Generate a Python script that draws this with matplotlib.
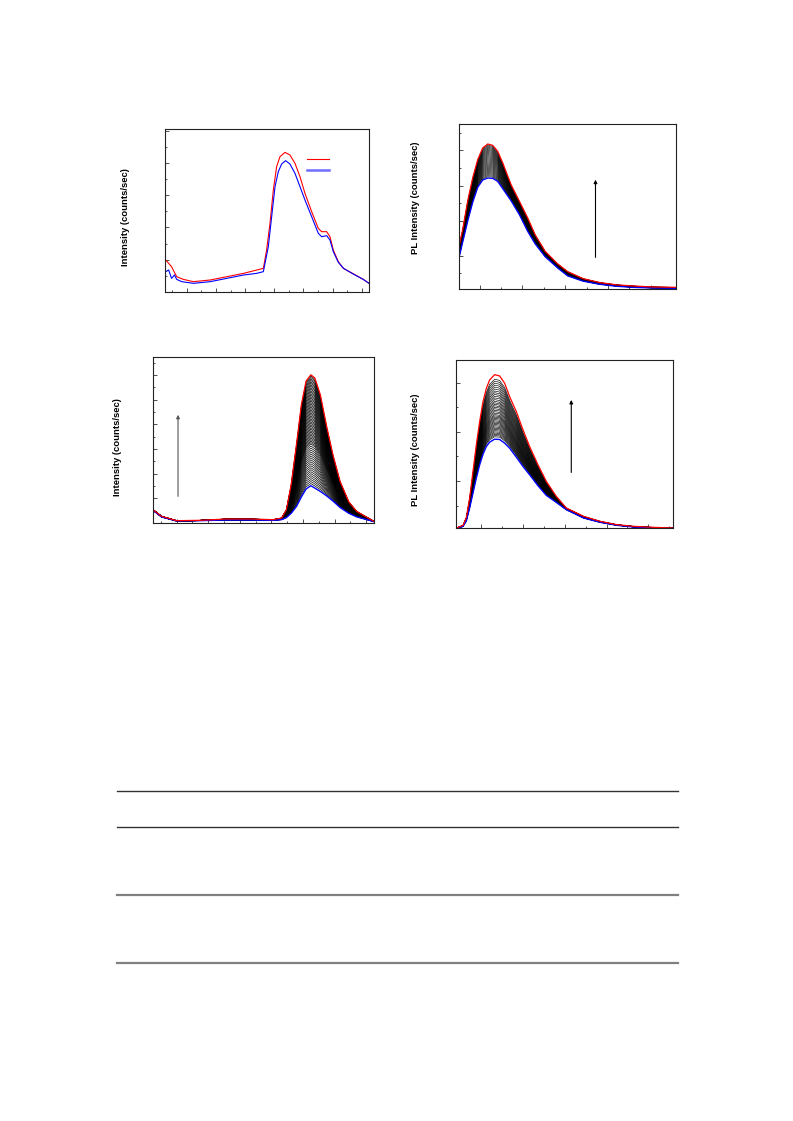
import numpy as np
import matplotlib
matplotlib.use('Agg')
import matplotlib.pyplot as plt
from matplotlib.lines import Line2D
from matplotlib.ticker import MultipleLocator, NullFormatter

plt.rcParams['font.family'] = ['Liberation Sans', 'DejaVu Sans']

# ---- panel (a): two spectra ----
a_red_x = [251, 259, 266, 275, 289, 312, 335, 358, 376, 385, 389.5, 394.1, 398.7, 403.2, 407.8, 414.7,
           421.5, 428.4, 435.3, 442.1, 451.3, 460.4, 465, 471.9, 476.4, 481, 487.9, 494.7, 509, 522, 530]
a_red_y = [1981, 1569, 950, 784, 640, 743, 950, 1156, 1362, 1465, 2601, 4252, 6316, 7761, 8380, 8648,
           8483, 7967, 7141, 6109, 4974, 3942, 3736, 3736, 3426, 2601, 1878, 1465, 1115, 784, 537]
a_blue_x = [251, 255, 259, 263, 266, 273, 289, 312, 335, 358, 376, 385, 391.8, 396.4, 401, 405.5, 410.1,
            415.6, 421.5, 428.4, 435.3, 442.1, 451.3, 460.4, 465, 471.9, 476.4, 481, 487.9, 495, 509, 522, 530]
a_blue_y = [1259, 1362, 846, 1053, 784, 640, 537, 640, 846, 1053, 1156, 1259, 2807, 4665, 6522, 7451, 7926,
            8132, 7926, 7348, 6522, 5697, 4665, 3633, 3426, 3488, 3220, 2497, 1837, 1465, 1094, 784, 537]

# ---- panel (b): PL spectra series ----
b_x = [476.2, 480.1, 485.9, 491.8, 497.7, 503.5, 509.4, 515.2, 521.1, 527, 536.7, 546.5,
       556.2, 564.8, 576.6, 591.4, 603, 621.1, 640.6, 660.2, 679.7, 703.1, 729.7]
b_red = [13177, 17443, 25501, 32137, 37351, 40669, 41807, 41428, 39721, 36403, 30241, 25501,
         20761, 16021, 11281, 7679, 5500, 3500, 2400, 1750, 1422, 1138, 1043]
b_blue = [9859, 13936, 19813, 25217, 29483, 31568, 32137, 32042, 31189, 29104, 25691, 21709,
          16969, 13462, 9764, 6541, 4300, 2800, 1900, 1350, 1043, 853, 758]
b_peaks = [41500, 41200, 40900, 40600, 40300, 40000, 39700, 39400, 39100, 38800, 38500, 38200,
           37900, 37600, 37300, 37000, 36700, 36400, 36100, 35800, 35500, 35200, 34900, 34600,
           34300, 34000, 33700, 33400, 33100, 32800, 32500]

# ---- panel (c): spectra series ----
c_x = [250, 261, 280, 309, 343, 373, 402, 413, 419, 425, 432, 438, 444, 450, 455, 462,
       470, 478, 487, 498, 508, 521, 530]
c_red = [2700, 1350, 472, 540, 810, 810, 675, 1012, 2700, 7700, 16200, 24000, 28800, 30040, 29400, 26000,
         19575, 13800, 8440, 4300, 2360, 1150, 340]
c_blue = [2565, 1215, 405, 472, 608, 608, 540, 675, 1100, 1950, 3400, 5300, 6900, 7560, 7080, 6400,
          5500, 4450, 3150, 1980, 1250, 675, 270]
c_peaks = [29800, 29500, 29200, 28900, 28600, 28300, 28000, 27700, 27400, 27100, 26800, 26500,
           26200, 25900, 25600, 25300, 25000, 24700, 24400, 24100, 23800, 23500, 23200, 22900,
           22600, 22300, 22000, 21700, 21400, 21100, 20800, 20500, 20200, 19900, 19600, 19300,
           19000, 18700, 18400, 18100, 17800, 17500, 17200, 16900, 16600, 16300, 16000,
           15600, 15200, 14800, 14400, 14000, 13600, 13200, 12800, 12400, 12000, 11600, 11200,
           10800, 10400, 10000, 9600, 9200, 8800, 8400, 8000]

# ---- panel (d): PL spectra series ----
d_x = [470.4, 478.4, 482.4, 486.3, 490.3, 494.3, 498.3, 502.3, 506.3, 510.2, 516.2, 522.2,
       528.2, 534.1, 542.1, 550.1, 558, 568, 578, 589.9, 601.9, 622.6, 642.5, 662.4,
       682.4, 706.3, 729.4]
d_red = [473, 1014, 2635, 6554, 11960, 17365, 22095, 26150, 28852, 30542, 31623, 31352,
         29866, 27163, 24122, 20406, 17028, 13311, 9933, 6892, 4527, 2838, 1824, 1149,
         811, 608, 473]
d_blue = [338, 811, 1960, 4527, 7568, 10608, 13311, 15474, 17028, 17906, 18514, 18447,
          17703, 16690, 14865, 12973, 11284, 9054, 7095, 5676, 4189, 2500, 1622, 1014,
          676, 473, 405]
d_peaks = [30700, 30300, 29900, 29500, 29100, 28700, 28300, 27950, 27600, 27250, 26900, 26550,
           26200, 25900, 25600, 25300, 25000, 24700, 24400, 24100, 23800, 23500, 23250, 23000,
           22750, 22500, 22250, 22000, 21750, 21500, 21250, 21000, 20750, 20500, 20250, 20000,
           19750, 19500, 19250, 19000]

W, H = 793, 1121
fig = plt.figure(figsize=(W / 100, H / 100), dpi=100)


def box(x0, y0, x1, y1):
    # pixel box -> figure fraction
    return [x0 / W, 1 - y1 / H, (x1 - x0) / W, (y1 - y0) / H]


def style(ax, xmaj, xmin, ymaj, ymin):
    ax.xaxis.set_major_locator(MultipleLocator(xmaj))
    ax.xaxis.set_minor_locator(MultipleLocator(xmin))
    ax.yaxis.set_major_locator(MultipleLocator(ymaj))
    ax.yaxis.set_minor_locator(MultipleLocator(ymin))
    ax.xaxis.set_major_formatter(NullFormatter())
    ax.yaxis.set_major_formatter(NullFormatter())
    ax.tick_params(which='both', direction='in', top=False, right=False, width=0.6, color='#333333')
    ax.tick_params(which='major', length=3.0)
    ax.tick_params(which='minor', length=1.5)
    for s in ax.spines.values():
        s.set_linewidth(0.8)
        s.set_color('#222222')


def family(ax, x, blue, red, peaks, lw=0.45):
    blue = np.array(blue, float)
    red = np.array(red, float)
    pb, pr = blue.max(), red.max()
    for p in peaks:
        f = (p - pb) / (pr - pb)
        ax.plot(x, blue + f * (red - blue), color='black', lw=lw)
    ax.plot(x, blue, color='blue', lw=1.0)
    ax.plot(x, red, color='red', lw=0.9)


def arrow(ax, x, y0, y1, color='black'):
    ax.annotate('', xy=(x, y1), xytext=(x, y0),
                arrowprops=dict(arrowstyle='-|>', lw=0.8, color=color, mutation_scale=5,
                                shrinkA=0, shrinkB=0))


# panel (a)
ax1 = fig.add_axes(box(165, 129, 369, 292))
ax1.plot(a_red_x, a_red_y, color='red', lw=0.8)
ax1.plot(a_blue_x, a_blue_y, color='blue', lw=0.8)
ax1.set_xlim(250, 530)
ax1.set_ylim(0, 10093)
style(ax1, 40, 20, 2000, 1000)
h_red = Line2D([], [], color='red', lw=0.8)
h_blue = Line2D([], [], color='#6f6fff', lw=1.8)
ax1.legend([h_red, h_blue], [' ', ' '], frameon=False, fontsize=6, loc='upper left',
           bbox_to_anchor=(0.695, 0.832), borderpad=0, borderaxespad=0,
           handlelength=2.7, labelspacing=0.4, handletextpad=0.3)

# panel (b)
ax2 = fig.add_axes(box(459, 124, 676, 289))
family(ax2, b_x, b_blue, b_red, b_peaks)
ax2.set_xlim(475.8, 729.7)
ax2.set_ylim(569, 47493)
style(ax2, 50, 25, 10000, 5000)
arrow(ax2, 635.5, 9575, 31663)

# panel (c)
ax3 = fig.add_axes(box(153, 357, 374, 523))
family(ax3, c_x, c_blue, c_red, c_peaks, lw=0.5)
ax3.set_xlim(250, 530)
ax3.set_ylim(0, 33650)
style(ax3, 40, 20, 5000, 2500)
arrow(ax3, 281.7, 5400, 21940, color='#555555')

# panel (d)
ax4 = fig.add_axes(box(456, 360, 673, 528))
family(ax4, d_x, d_blue, d_red, d_peaks)
ax4.set_xlim(470, 729.4)
ax4.set_ylim(473, 34596)
style(ax4, 50, 25, 10000, 5000)
arrow(ax4, 607.8, 11757, 26487)

# y labels
lab = dict(rotation=90, ha='center', va='center', fontsize=6.8, fontweight='bold')
fig.text(125 / W, 1 - 217 / H, 'Intensity (counts/sec)', **lab)
fig.text(415 / W, 1 - 198 / H, 'PL Intensity (counts/sec)', **lab)
fig.text(117 / W, 1 - 447.5 / H, 'Intensity (counts/sec)', **lab)
fig.text(415 / W, 1 - 450 / H, 'PL Intensity (counts/sec)', **lab)

# table rules
for yy, c, w in [(791, '#333333', 1.0), (827, '#333333', 1.0), (895, '#808080', 1.6), (963, '#808080', 1.6)]:
    fig.add_artist(Line2D([117 / W, 678 / W], [1 - yy / H, 1 - yy / H], color=c, lw=w))

fig.savefig('out.png', dpi=100)
